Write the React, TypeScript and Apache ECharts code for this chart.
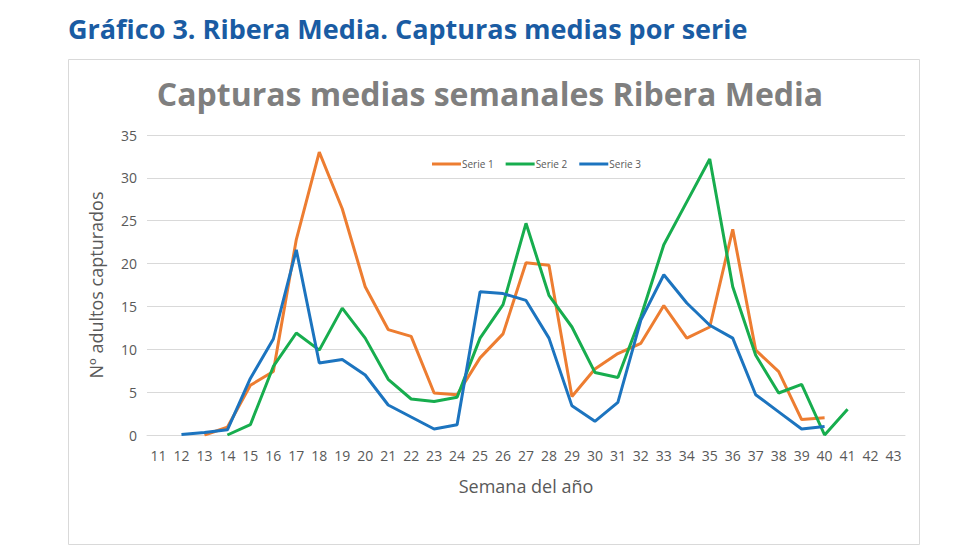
import React, { useEffect, useRef } from "react";
import * as echarts from "echarts";

const weeks = ["11","12","13","14","15","16","17","18","19","20","21","22","23","24","25","26","27","28","29","30","31","32","33","34","35","36","37","38","39","40","41","42","43"];

// values aligned with weeks (null = no data)
const serie1 = [null, null, 0, 0.9, 5.8, 7.4, 22.8, 33.0, 26.4, 17.3, 12.3, 11.5, 4.9, 4.7, 9.0, 11.8, 20.1, 19.8, 4.5, 7.7, 9.5, 10.7, 15.1, 11.3, 12.6, 24.0, 9.9, 7.4, 1.8, 2.0, null, null, null];
const serie2 = [null, null, null, 0, 1.2, 8.0, 11.9, 9.9, 14.8, 11.3, 6.5, 4.2, 3.9, 4.4, 11.3, 15.2, 24.7, 16.3, 12.6, 7.3, 6.7, 13.8, 22.2, 27.2, 32.2, 17.3, 9.3, 4.9, 5.9, 0, 3.0, null, null];
const serie3 = [null, 0.05, 0.3, 0.6, 6.6, 11.2, 21.6, 8.4, 8.8, 7.0, 3.5, 2.1, 0.7, 1.2, 16.7, 16.5, 15.7, 11.3, 3.4, 1.6, 3.8, 13.4, 18.7, 15.4, 12.8, 11.3, 4.7, 2.7, 0.7, 1.0, null, null, null];

const seriesNames = ["Serie 1", "Serie 2", "Serie 3"];
const seriesColors = ["#ED7D31", "#17AD4E", "#1C74BF"];

const headerText = "Gráfico 3. Ribera Media. Capturas medias por serie";
const chartTitle = "Capturas medias semanales Ribera Media";
const yAxisName = "Nº adultos capturados";
const xAxisName = "Semana del año";

export default function App() {
  const ref = useRef<HTMLDivElement>(null);
  useEffect(() => {
    if (!ref.current) return;
    const chart = echarts.init(ref.current, null, { renderer: "svg" });
    const font = "'Open Sans', 'Noto Sans', sans-serif";
    const data = [serie1, serie2, serie3];
    chart.setOption({
      animation: false,
      backgroundColor: "#ffffff",
      textStyle: { fontFamily: font },
      graphic: [
        {
          type: "text",
          left: 68,
          top: 15,
          style: { text: headerText, fill: "#1A5CA3", font: `bold 27px ${font}` },
        },
        {
          type: "rect",
          shape: { x: 68.5, y: 59.5, width: 851, height: 485 },
          style: { fill: "none", stroke: "#D9D9D9", lineWidth: 1 },
          silent: true,
        },
      ],
      title: {
        text: chartTitle,
        left: "center",
        top: 72,
        textStyle: { color: "#7F7F7F", fontSize: 32, fontWeight: "bold", fontFamily: font },
      },
      legend: {
        top: 154,
        left: 427,
        itemWidth: 29,
        itemHeight: 3,
        itemGap: 12,
        icon: "rect",
        textStyle: { color: "#595959", fontSize: 10, fontFamily: font, padding: [0, 0, 0, -4] },
        data: seriesNames,
      },
      grid: { left: 147, right: 75, top: 135, bottom: 125, containLabel: false },
      xAxis: {
        type: "category",
        data: weeks,
        boundaryGap: true,
        axisLine: { show: true, lineStyle: { color: "#D9D9D9" } },
        axisTick: { show: false },
        axisLabel: { color: "#595959", fontSize: 14, margin: 13, interval: 0 },
        name: xAxisName,
        nameLocation: "middle",
        nameGap: 42,
        nameTextStyle: { color: "#595959", fontSize: 18 },
      },
      yAxis: {
        type: "value",
        min: 0,
        max: 35,
        interval: 5,
        axisLine: { show: false },
        axisTick: { show: false },
        axisLabel: { color: "#595959", fontSize: 14, margin: 10 },
        splitLine: { lineStyle: { color: "#D9D9D9", width: 1 } },
        name: yAxisName,
        nameLocation: "middle",
        nameGap: 42,
        nameRotate: 90,
        nameTextStyle: { color: "#595959", fontSize: 18 },
      },
      series: seriesNames.map((n, i) => ({
        name: n,
        type: "line",
        data: data[i],
        showSymbol: false,
        symbol: "none",
        connectNulls: false,
        lineStyle: { width: 3, color: seriesColors[i] },
        itemStyle: { color: seriesColors[i] },
      })),
    });
    return () => chart.dispose();
  }, []);
  return (
    <div style={{ position: "fixed", left: 0, top: 0, width: 980, height: 560, background: "#fff" }}>
      <div ref={ref} style={{ width: 980, height: 560 }} />
    </div>
  );
}
